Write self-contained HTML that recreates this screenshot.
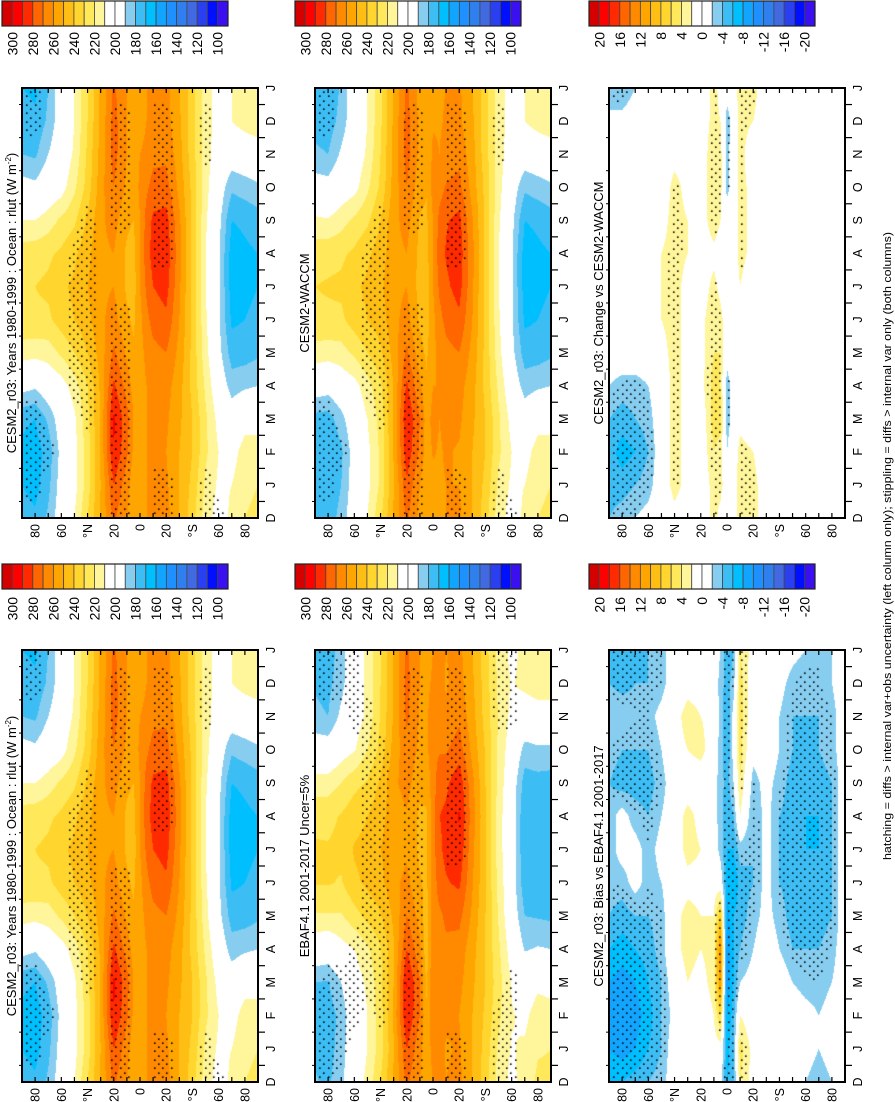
<!DOCTYPE html>
<html><head><meta charset="utf-8">
<style>
html,body{margin:0;padding:0;background:#fff;}
body{width:895px;height:1102px;overflow:hidden;position:relative;}
#stage{position:absolute;left:0;top:0;width:1102px;height:895px;transform-origin:0 0;transform:translate(0,1102px) rotate(-90deg);}
#stage canvas{position:absolute;}
#stage svg{position:absolute;left:0;top:0;}
text{font-family:"Liberation Sans",Arial,sans-serif;fill:#000;}
</style></head>
<body>
<div id="stage">
<svg id="ov" width="1102" height="895"></svg>
</div>
<script>
// ---------- data ----------
const months = ['D','J','F','M','A','M','J','J','A','S','O','N','D','J'];
const lats = [90,80,70,60,50,40,30,20,10,5,0,-5,-10,-20,-30,-40,-50,-60,-70,-80,-90];
const latTickVals = [80,60,40,20,0,-20,-40,-60,-80];
const latTickLabels = ['80','60','°N','20','0','20','°S','60','80'];
const absLabels = ['300','280','260','240','220','200','180','160','140','120','100'];
const diffLabels = ['20','16','12','8','4','0','-4','-8','-12','-16','-20'];
const palette = ['#d50000','#ff0000','#ff2a00','#ff6600','#ff8a00','#ffa500','#ffbe14','#ffd52e','#ffe85a','#fff59a','#ffffff','#ffffff','#87cdef','#3cbef5','#00bfff','#12a5ff','#1e90ff','#2f7fef','#4169e1','#2a40f0','#0010ff','#3a10f0'];

const cesm = [
[175,170,168,172,195,215,228,228,225,210,195,180,175,170],
[172,166,165,170,192,214,228,230,226,210,193,178,172,168],
[182,177,174,182,200,215,228,232,228,215,200,190,182,180],
[198,196,194,198,205,222,235,238,232,222,205,200,198,198],
[210,206,206,208,215,230,240,242,238,228,218,212,210,210],
[230,225,225,227,230,240,247,250,247,242,234,232,230,230],
[252,250,252,252,252,255,258,258,258,258,256,254,252,252],
[272,280,290,292,282,272,264,260,260,264,270,274,274,272],
[260,264,272,274,266,258,252,248,248,252,258,260,260,260],
[252,254,258,260,256,252,248,245,246,250,254,255,254,252],
[254,257,260,260,257,257,257,260,260,260,262,260,257,254],
[260,260,260,260,260,262,267,272,276,274,268,262,260,260],
[264,264,264,264,264,267,274,280,284,282,274,267,264,264],
[264,262,260,262,264,270,278,284,287,284,274,268,264,264],
[250,250,250,252,254,257,260,262,264,262,257,254,252,250],
[234,237,240,240,237,237,237,237,237,237,237,234,234,234],
[215,218,222,222,218,214,212,210,210,212,214,215,215,215],
[205,208,210,206,200,194,192,192,192,194,198,203,205,205],
[212,210,205,198,185,175,168,165,165,170,182,198,210,210],
[220,218,215,205,188,175,170,168,168,172,185,200,215,218],
[222,220,215,205,190,178,172,170,170,175,188,202,218,220]];

const waccm = [
[176,172,170,176,198,216,228,230,226,212,196,182,176,172],
[174,170,170,175,196,215,228,231,227,211,195,180,174,170],
[184,180,178,186,202,216,228,232,228,216,202,192,184,182],
[199,197,196,200,206,222,235,238,232,222,206,201,199,199],
[210,207,207,210,216,230,240,242,238,228,218,212,210,210],
[228,222,222,224,228,238,245,248,245,240,232,230,228,228],
[252,249,251,251,251,254,257,257,257,257,254,253,252,252],
[272,278,287,290,282,272,264,260,260,264,270,274,274,272],
[257,260,268,270,262,254,248,246,247,249,254,257,257,257],
[250,251,255,256,252,248,245,244,246,248,251,252,252,250],
[255,257,261,263,260,258,257,260,260,260,264,262,259,255],
[259,259,259,260,260,262,267,272,276,273,266,260,259,259],
[260,260,261,263,264,267,273,278,281,279,271,264,261,260],
[262,260,259,262,264,270,278,284,286,283,273,267,262,262],
[250,250,250,252,254,257,260,262,263,261,256,254,252,250],
[234,237,240,240,237,237,237,237,237,237,237,234,234,234],
[215,218,222,222,218,214,212,210,210,212,214,215,215,215],
[205,208,210,206,200,194,192,192,192,194,198,203,205,205],
[212,210,205,198,185,175,168,165,165,170,182,198,210,210],
[220,218,215,205,188,175,170,168,168,172,185,200,215,218],
[222,220,215,205,190,178,172,170,170,175,188,202,218,220]];

const ebaf = [
[181,178,177,180,201,219,231,231,228,214,198,182,179,175],
[178,175,175,179,199,219,231,231,227,215,197,180,177,174],
[187,185,183,190,206,219,229,233,231,220,204,193,186,185],
[202,201,200,204,210,226,238,241,236,227,209,203,202,202],
[213,210,210,212,218,233,242,243,240,231,220,213,213,213],
[230,225,226,227,229,239,247,250,247,242,233,231,230,230],
[252,249,252,250,249,252,257,255,255,258,254,251,251,252],
[272,280,290,291,280,270,263,258,259,264,267,272,273,272],
[260,263,270,271,263,256,251,248,248,253,258,259,260,260],
[253,253,252,248,243,244,248,248,249,253,257,258,257,254],
[260,264,268,270,267,266,264,266,266,265,268,266,262,260],
[265,264,265,266,266,268,275,278,280,276,269,263,263,264],
[260,259,262,266,268,272,279,283,282,278,269,262,259,260],
[263,261,260,263,266,273,282,288,291,287,275,268,264,263],
[250,250,250,252,254,258,261,263,265,263,257,254,252,250],
[234,236,238,240,239,240,241,241,241,240,239,236,235,234],
[216,218,222,224,222,219,217,215,215,217,218,219,218,216],
[207,209,211,209,204,199,198,198,198,199,203,207,209,207],
[215,212,207,201,189,180,173,171,171,175,186,202,213,213],
[222,219,216,207,191,179,174,172,172,176,188,203,217,220],
[222,220,215,205,190,178,172,170,170,175,188,202,218,220]];

const bias = [
[-6,-8,-9,-8,-6,-4,-3,-3,-3,-4,-3,-2,-4,-5],
[-6,-9,-10,-9,-7,-5,-3,-1,-1,-5,-4,-2,-5,-6],
[-5,-8,-9,-8,-6,-4,-1,-1,-3,-5,-4,-3,-4,-5],
[-4,-6,-7,-6,-5,-4,-3,-3,-4,-5,-4,-3,-4,-4],
[-3,-4,-4,-4,-3,-3,-2,-1,-2,-3,-2,-1,-3,-3],
[0,0,-1,0,1,1,0,0,0,0,1,1,0,0],
[0,1,0,2,3,3,1,3,3,0,2,3,1,0],
[0,0,0,1,2,2,1,2,1,0,3,2,1,0],
[0,1,2,3,3,2,1,0,-1,-1,0,1,0,0],
[-1,1,6,12,13,8,0,-3,-3,-3,-3,-3,-3,-2],
[-6,-7,-8,-10,-10,-9,-7,-6,-6,-5,-6,-6,-5,-6],
[-5,-4,-5,-6,-6,-6,-8,-6,-4,-2,-1,-1,-3,-4],
[4,5,2,-2,-4,-5,-5,-3,2,4,5,5,5,4],
[1,1,0,-1,-2,-3,-4,-4,-4,-3,-1,0,0,1],
[0,0,0,0,0,-1,-1,-1,-1,-1,0,0,0,0],
[0,1,2,0,-2,-3,-4,-4,-4,-3,-2,-2,-1,0],
[-1,0,0,-2,-4,-5,-5,-5,-5,-5,-4,-4,-3,-1],
[-2,-1,-1,-3,-4,-5,-6,-6,-6,-5,-5,-4,-4,-2],
[-3,-2,-2,-3,-4,-5,-5,-6,-6,-5,-4,-4,-3,-3],
[-2,-1,-1,-2,-3,-4,-4,-4,-4,-4,-3,-3,-2,-2],
[0,0,0,0,0,0,0,0,0,0,0,0,0,0]];

const change = [
[-4,-5,-5,-4,-2,0,0,0,0,0,0,0,-1,-4],
[-3,-5,-7,-5,-3,0,1,0,0,0,0,0,-1,-4],
[-2,-4,-6,-4,-3,0,1,1,0,0,0,0,0,-2],
[-1,-3,-4,-3,-2,0,0,0,0,0,0,0,0,-1],
[0,0,0,0,0,1,2,2,2,1,0,0,0,0],
[1,3,3,3,3,3,3,3,3,3,3,1,1,2],
[0,1,1,1,1,1,1,1,2,2,1,0,0,0],
[0,0,0,0,1,1,1,0,0,0,0,0,0,0],
[3,3,4,5,5,4,4,3,1,4,4,4,3,3],
[1,3,3,5,4,4,3,1,0,2,3,3,2,1],
[-2,0,-2,-3,-3,-1,0,0,0,0,-3,-3,-3,-1],
[0,0,0,-1,-1,0,0,0,0,0,0,0,-1,0],
[4,4,3,1,0,0,1,2,3,3,3,3,3,4],
[3,3,2,0,0,0,0,0,1,1,1,0,2,3],
[0,0,0,0,0,0,0,0,0,0,0,0,0,0],
[0,0,0,0,0,0,0,0,0,0,0,0,0,0],
[0,0,0,0,0,0,0,0,0,0,0,0,0,0],
[0,0,0,0,0,0,0,0,0,0,0,0,0,0],
[0,0,0,0,0,0,0,0,0,0,0,0,0,0],
[0,0,0,0,0,0,0,0,0,0,0,0,0,0],
[0,0,0,0,0,0,0,0,0,0,0,0,0,0]];

// stippling masks for climatology panels (rows = lats, cols = months)
const modelStipple = [
"01110000000010","01110000000011","00100000000000","00000000000000",
"00001111100000","00011111110000","00000000000000","11111110011110",
"11111110011110","00000000000000","00000000000000","00000000000000",
"11000000111110","11000000111110","00000000000000","00000000000000",
"11000000000110","10000000000000","00000000000000","00000000000000","00000000000000"];
const obsStipple = [
"11100000000011","11110000000011","01110000000010","00111000000111",
"00011111111100","00111111111000","00000000000000","11111111111110",
"11111111111110","00000000000000","00000000000000","00000000000000",
"11000001111110","11000001111110","00000000000000","00000000000000",
"11100000000111","11110000000111","00000000000000","00000000000000","00000000000000"];

// ---------- layout ----------
const NS = 'http://www.w3.org/2000/svg';
const ov = document.getElementById('ov');
const stage = document.getElementById('stage');
const panels = [
 {x:20,y:22,w:432,h:236,grid:cesm,kind:'abs',stip:modelStipple,name:'left-model-panel',title:'CESM2_r03: Years 1980-1999 : Ocean : rlut (W m',sup:true,cbx:513,lblx:505},
 {x:20,y:315,w:432,h:236,grid:ebaf,kind:'abs',stip:obsStipple,name:'obs-panel',title:'EBAF4.1 2001-2017 Uncer=5%',cbx:513,lblx:505},
 {x:20,y:609,w:432,h:236,grid:bias,kind:'diff',thr:3,name:'bias-panel',title:'CESM2_r03: Bias vs EBAF4.1 2001-2017',cbx:513,lblx:505},
 {x:584,y:22,w:430,h:236,grid:cesm,kind:'abs',stip:modelStipple,name:'right-model-panel',title:'CESM2_r03: Years 1980-1999 : Ocean : rlut (W m',sup:true,cbx:1076,lblx:1070},
 {x:584,y:315,w:430,h:236,grid:waccm,kind:'abs',stip:modelStipple,name:'waccm-panel',title:'CESM2-WACCM',cbx:1076,lblx:1070},
 {x:584,y:609,w:430,h:236,grid:change,kind:'diff',thr:2.5,name:'change-panel',title:'CESM2_r03: Change vs CESM2-WACCM',cbx:1076,lblx:1070}
];

function el(tag, attrs, parent){
  const e = document.createElementNS(NS, tag);
  for (const k in attrs) e.setAttribute(k, attrs[k]);
  (parent||ov).appendChild(e);
  return e;
}
function sampleF(get, m, lat){
  let i = 0;
  while (i < lats.length-2 && lat < lats[i+1]) i++;
  const t = (lats[i]-lat)/(lats[i]-lats[i+1]);
  let j = Math.floor(m); if (j > 12) j = 12; if (j < 0) j = 0;
  const s = m - j;
  const a = get(i,j)*(1-s)+get(i,j+1)*s;
  const b = get(i+1,j)*(1-s)+get(i+1,j+1)*s;
  return a*(1-t)+b*t;
}
function levelIndex(v, kind){
  const k = kind==='abs' ? Math.floor((310-v)/10) : Math.floor((22-v)/2);
  return Math.max(0, Math.min(21, k));
}
function hex2rgb(h){return [parseInt(h.substr(1,2),16),parseInt(h.substr(3,2),16),parseInt(h.substr(5,2),16)];}
const rgbPal = palette.map(hex2rgb);

panels.forEach(p => {
  const cv = document.createElement('canvas');
  cv.width = p.w; cv.height = p.h;
  cv.style.left = p.x+'px'; cv.style.top = p.y+'px';
  
  
  stage.insertBefore(cv, ov);
  const ctx = cv.getContext('2d');
  const img = ctx.createImageData(p.w, p.h);
  const get = (i,j)=>p.grid[i][j];
  for (let py=0; py<p.h; py++){
    const lat = 90 - (py+0.5)/p.h*180;
    for (let px=0; px<p.w; px++){
      const m = (px+0.5)/p.w*13;
      const c = rgbPal[levelIndex(sampleF(get, m, lat), p.kind)];
      const o = (py*p.w+px)*4;
      img.data[o]=c[0]; img.data[o+1]=c[1]; img.data[o+2]=c[2]; img.data[o+3]=255;
    }
  }
  ctx.putImageData(img,0,0);
  // stippling
  ctx.fillStyle = '#000';
  const sp = 8.5;
  let row = 0;
  for (let py=4; py<p.h-2; py+=sp/2, row++){
    const lat = 90 - py/p.h*180;
    for (let px=4 + (row%2)*sp/2; px<p.w-2; px+=sp){
      const m = px/p.w*13;
      let on;
      if (p.stip) on = sampleF((i,j)=>+p.stip[i][j], m, lat) > 0.5;
      else on = Math.abs(sampleF(get, m, lat)) >= p.thr;
      if (on) ctx.fillRect(Math.round(px), Math.round(py), 1.6, 1.6);
    }
  }

  const g = el('g', {});
  
  
  const fr = el('rect', {x:p.x, y:p.y, width:p.w, height:p.h, fill:'none', stroke:'#000', 'stroke-width':2}, g);
  
  
  const xs = m => p.x + m/13*p.w;
  const ys = lat => p.y + (90-lat)/180*p.h;
  for (let j=0;j<13;j++){
    const tx = xs(j+0.5);
    el('line',{x1:tx,y1:p.y+p.h,x2:tx,y2:p.y+p.h+7,stroke:'#000','stroke-width':1.2},g);
    el('line',{x1:tx,y1:p.y,x2:tx,y2:p.y-3,stroke:'#000','stroke-width':1},g);
  }
  months.forEach((mn,j)=>{
    const t = el('text',{x:xs(j),y:p.y+p.h+17,'font-size':12.5,'text-anchor':'middle'},g);
    t.textContent = mn;
    
    
  });
  for (let lt=80; lt>=-80; lt-=10){
    const ty = ys(lt);
    el('line',{x1:p.x,y1:ty,x2:p.x+5,y2:ty,stroke:'#000','stroke-width':1.2},g);
    el('line',{x1:p.x+p.w,y1:ty,x2:p.x+p.w-5,y2:ty,stroke:'#000','stroke-width':1.2},g);
  }
  latTickVals.forEach((lv,k)=>{
    const t = el('text',{x:p.x-6,y:ys(lv)+4.5,'font-size':12.5,'text-anchor':'end'},g);
    t.textContent = latTickLabels[k];
    
    
  });
  const tt = el('text',{x:p.x+p.w/2,y:p.y-6,'font-size':13,'text-anchor':'middle'},g);
  
  
  tt.textContent = p.title;
  if (p.sup){
    const s = el('tspan',{'font-size':8,dy:-5},tt); s.textContent='-2';
    const s2 = el('tspan',{dy:5},tt); s2.textContent=')';
  }
  const cb = el('g',{},g);
  
  
  const cbTop = p.y-20, cbH = 226, bh = cbH/22;
  palette.forEach((c,i)=>{
    el('rect',{x:p.cbx,y:cbTop+i*bh,width:25,height:bh,fill:c,stroke:'#444','stroke-width':0.8},cb);
  });
  el('rect',{x:p.cbx,y:cbTop,width:25,height:cbH,fill:'none',stroke:'#222','stroke-width':1.2},cb);
  const labels = p.kind==='abs'?absLabels:diffLabels;
  labels.forEach((lb,k)=>{
    const t = el('text',{x:p.lblx,y:cbTop+(2*k+1)*bh+5,'font-size':14,'text-anchor':'end'},cb);
    t.textContent = lb;
    
    
  });
});

const ft = el('text',{x:556,y:891,'font-size':11,'text-anchor':'middle',textLength:628,lengthAdjust:'spacingAndGlyphs'});


ft.textContent = 'hatching = diffs > internal var+obs uncertainty (left column only); stippling = diffs > internal var only (both columns)';
</script>
</body></html>
